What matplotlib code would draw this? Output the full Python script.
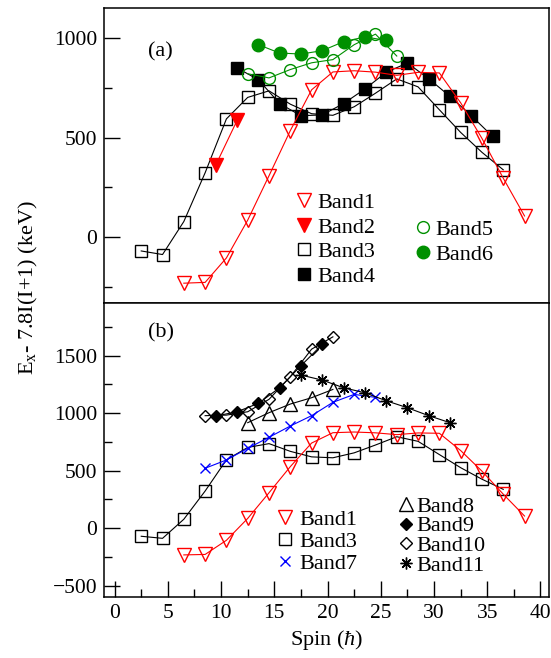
import matplotlib
matplotlib.use("Agg")
import matplotlib.pyplot as plt
from matplotlib.lines import Line2D
from matplotlib.ticker import MultipleLocator

plt.rcParams['font.family'] = ['Liberation Serif', 'DejaVu Serif']
plt.rcParams['mathtext.fontset'] = 'custom'
plt.rcParams['mathtext.rm'] = 'Liberation Serif'
plt.rcParams['mathtext.it'] = 'Liberation Serif:italic'

# level energies relative to a rigid rotor reference, E_x - 7.8 I(I+1)
spin1 = [6.5, 8.5, 10.5, 12.5, 14.5, 16.5, 18.5, 20.5, 22.5, 24.5, 26.5, 28.5, 30.5, 32.5, 34.5, 36.5, 38.5]
band1 = [-232, -228, -105, 85, 308, 535, 740, 830, 836, 829, 813, 828, 825, 675, 496, 296, 106]
spin2 = [9.5, 11.5]
band2 = [362, 586]
spin3 = [2.5, 4.5, 6.5, 8.5, 10.5, 12.5, 14.5, 16.5, 18.5, 20.5, 22.5, 24.5, 26.5, 28.5, 30.5, 32.5, 34.5, 36.5]
band3 = [-70, -88, 78, 323, 594, 702, 735, 668, 620, 612, 655, 723, 795, 755, 640, 526, 426, 338]
spin4 = [11.5, 13.5, 15.5, 17.5, 19.5, 21.5, 23.5, 25.5, 27.5, 29.5, 31.5, 33.5, 35.5]
band4 = [850, 791, 671, 610, 614, 671, 744, 828, 875, 796, 707, 610, 506]
spin5 = [12.5, 14.5, 16.5, 18.5, 20.5, 22.5, 24.5, 26.5]
band5 = [821, 800, 842, 876, 892, 967, 1020, 910]
spin6 = [13.5, 15.5, 17.5, 19.5, 21.5, 23.5, 25.5]
band6 = [967, 925, 920, 937, 982, 1006, 989]
spin7 = [8.5, 10.5, 12.5, 14.5, 16.5, 18.5, 20.5, 22.5, 24.5]
band7 = [521, 593, 694, 790, 888, 978, 1094, 1163, 1137]
spin8 = [12.5, 14.5, 16.5, 18.5, 20.5]
band8 = [917, 1004, 1079, 1134, 1206]
spin9 = [9.5, 11.5, 13.5, 15.5, 17.5, 19.5]
band9 = [975, 1012, 1085, 1221, 1412, 1597]
spin10 = [8.5, 10.5, 12.5, 14.5, 16.5, 18.5, 20.5]
band10 = [978, 983, 1012, 1120, 1316, 1556, 1663]
spin11 = [17.5, 19.5, 21.5, 23.5, 25.5, 27.5, 29.5, 31.5]
band11 = [1331, 1287, 1221, 1177, 1108, 1047, 978, 917]

red = '#ff0000'
green = '#009000'
blue = '#0000ff'
star = (8, 2, 0)

sty = {
    'Band1': dict(color=red, marker='v', ms=9.5, mfc='none'),
    'Band2': dict(color=red, marker='v', ms=9.5, mfc=red),
    'Band3': dict(color='k', marker='s', ms=8.5, mfc='none'),
    'Band4': dict(color='k', marker='s', ms=8.5, mfc='k'),
    'Band5': dict(color=green, marker='o', ms=8.5, mfc='none'),
    'Band6': dict(color=green, marker='o', ms=9, mfc=green),
    'Band7': dict(color=blue, marker='x', ms=7, mfc='none'),
    'Band8': dict(color='k', marker='^', ms=9.5, mfc='none'),
    'Band9': dict(color='k', marker='D', ms=6.5, mfc='k'),
    'Band10': dict(color='k', marker='D', ms=6.5, mfc='none'),
    'Band11': dict(color='k', marker=star, ms=8.5, mfc='none'),
}


def draw(ax, x, y, name):
    s = sty[name]
    ax.plot(x, y, '-', color=s['color'], lw=0.8, marker=s['marker'], ms=s['ms'],
            mfc=s['mfc'], mec=s['color'], mew=1.0)


def handle(name):
    s = sty[name]
    return Line2D([], [], ls='None', marker=s['marker'], ms=s['ms'],
                  mfc=s['mfc'], mec=s['color'], mew=1.0)


def key(names, anchor, spacing, pad):
    fig.legend([handle(n) for n in names], names, loc='upper left',
               bbox_to_anchor=anchor, bbox_transform=fig.transFigure,
               frameon=False, fontsize=16, borderpad=0, borderaxespad=0,
               handlelength=0.6, handletextpad=pad, labelspacing=spacing)


def style(ax):
    ax.set_xlim(-1, 40.8)
    ax.xaxis.set_major_locator(MultipleLocator(5))
    ax.xaxis.set_minor_locator(MultipleLocator(2.5))
    ax.yaxis.set_major_locator(MultipleLocator(500))
    ax.yaxis.set_minor_locator(MultipleLocator(250))
    ax.tick_params(which='both', direction='in', top=False, right=False,
                   labelsize=15.5, width=1.0, pad=5)
    ax.tick_params(which='major', length=11.5)
    ax.tick_params(which='minor', length=5.8)
    for sp in ax.spines.values():
        sp.set_linewidth(1.1)


fig = plt.figure(figsize=(5.51, 6.58), dpi=100)
ax1 = fig.add_axes([0.1887, 0.54, 0.8077, 0.4474])
ax2 = fig.add_axes([0.1887, 0.0932, 0.8077, 0.4468])

# (a)
draw(ax1, spin3, band3, 'Band3')
draw(ax1, spin4, band4, 'Band4')
draw(ax1, spin1, band1, 'Band1')
draw(ax1, spin2, band2, 'Band2')
draw(ax1, spin5, band5, 'Band5')
draw(ax1, spin6, band6, 'Band6')
style(ax1)
ax1.set_ylim(-330, 1150)
ax1.tick_params(axis='x', which='both', bottom=False, labelbottom=False)
ax1.text(0.126, 0.852, '(a)', transform=ax1.transAxes, fontsize=16,
         ha='center', va='center')
key(['Band1', 'Band2', 'Band3', 'Band4'], (0.5396, 0.7074), 0.18, 0.29)
key(['Band5', 'Band6'], (0.755, 0.6664), 0.18, 0.29)

# (b)
draw(ax2, spin3, band3, 'Band3')
draw(ax2, spin1, band1, 'Band1')
draw(ax2, spin7, band7, 'Band7')
draw(ax2, spin8, band8, 'Band8')
draw(ax2, spin10, band10, 'Band10')
draw(ax2, spin9, band9, 'Band9')
draw(ax2, spin11, band11, 'Band11')
style(ax2)
ax2.set_ylim(-595, 1960)
ax2.text(0.128, 0.897, '(b)', transform=ax2.transAxes, fontsize=16,
         ha='center', va='center')
key(['Band1', 'Band3', 'Band7'], (0.505, 0.226), 0.06, 0.33)
key(['Band8', 'Band9', 'Band10', 'Band11'], (0.725, 0.2458), -0.04, 0.15)
ax2.set_xlabel(r'Spin $(\hbar)$', fontsize=16, labelpad=4)

fig.text(0.051, 1 - 288 / 658, r'E$_\mathrm{x}$- 7.8I(I+1) (keV)', fontsize=16,
         rotation=90, ha='center', va='center')

fig.savefig('out.png', dpi=100)
